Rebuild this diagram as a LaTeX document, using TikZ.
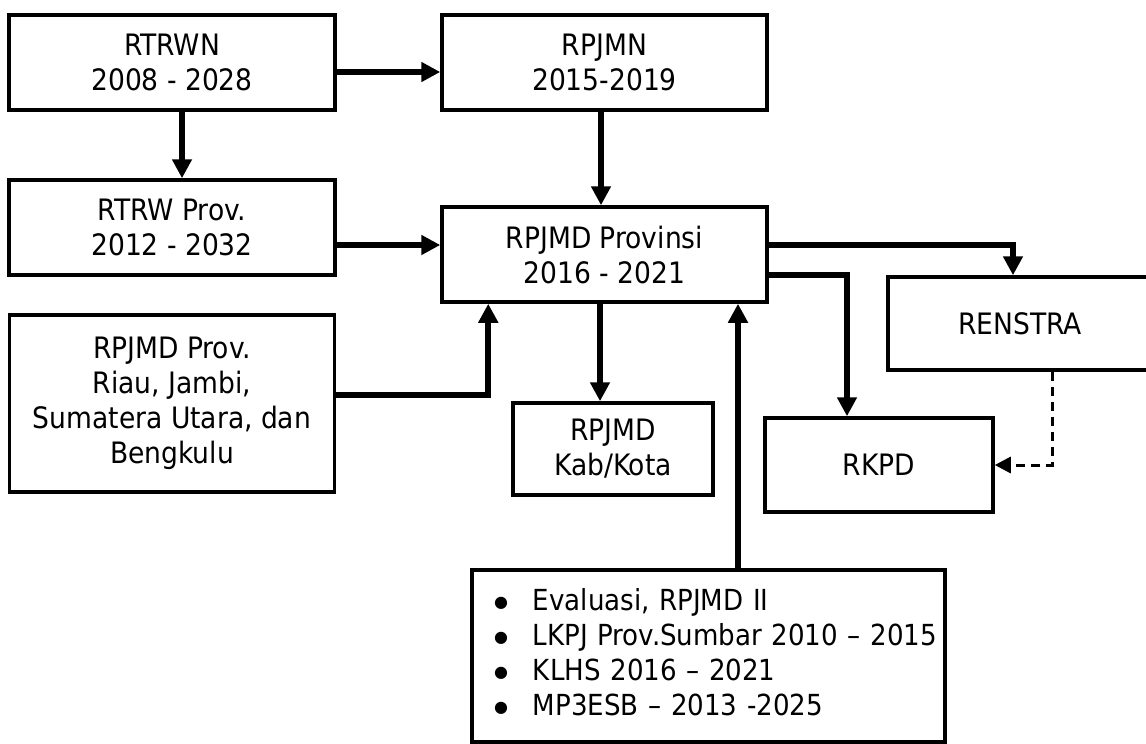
\documentclass[tikz,border=0pt]{standalone}
\usepackage{fontspec}
\setmainfont{DejaVu Sans Condensed}
\newfontfamily\symfont{DejaVu Sans}
\usetikzlibrary{arrows.meta,calc}
\tikzset{
  box/.style={draw=black, line width=1.75pt, rectangle, inner sep=0pt, align=center,
    font=\fontsize{14.75}{17.5}\selectfont, fill=white},
  arr/.style={line width=3pt, -{Triangle[length=9.5pt,width=9.5pt]}},
  darr/.style={line width=1.5pt, dash pattern=on 4.5pt off 3pt, -{Triangle[length=8pt,width=8pt]}}
}
\newcommand{\bul}{\raisebox{1.6pt}{\symfont\fontsize{8}{8}\selectfont ●}}
\begin{document}
\begin{tikzpicture}[x=0.5pt,y=-0.5pt]
\useasboundingbox (0,0) rectangle (1146,744);
\node[box, minimum width=163pt, minimum height=47.5pt] (rtrwn) at (172,62.5) {RTRWN\\2008 - 2028};
\node[box, minimum width=162.5pt, minimum height=47.5pt] (rpjmn) at (604.5,62.5) {RPJMN\\2015-2019};
\node[box, minimum width=163pt, minimum height=47.5pt] (rtrwp) at (172,227.5) {RTRW Prov.\\2012 - 2032};
\node[box, minimum width=162.5pt, minimum height=47.5pt] (prov) at (604.5,254.5) {RPJMD Provinsi\\2016 - 2021};
\node[box, minimum width=162.5pt, minimum height=88.5pt] (riau) at (172,403.5) {RPJMD Prov.\\Riau, Jambi,\\Sumatera Utara, dan\\Bengkulu};
\node[box, minimum width=100pt, minimum height=46pt] (kab) at (613,449) {RPJMD\\Kab/Kota};
\node[box, minimum width=132pt, minimum height=46.5pt] (renstra) at (1020,323.5) {RENSTRA};
\node[box, minimum width=114pt, minimum height=47pt] (rkpd) at (879,465) {RKPD};
\node[box, font=\fontsize{14.5}{17.5}\selectfont, minimum height=86pt, inner xsep=11pt, text width=214.5pt, align=left] (list) at (708.5,656)
  {\begin{tabular}{@{}l@{\hspace{12.5pt}}l@{}}
   \bul & Evaluasi, RPJMD II\\
   \bul & LKPJ Prov.Sumbar 2010 – 2015\\
   \bul & KLHS 2016 – 2021\\
   \bul & MP3ESB – 2013 -2025
   \end{tabular}};
% connectors
\draw[arr] ([yshift=-4.75pt]rtrwn.east) coordinate (a1) -- (a1 -| rpjmn.west);
\draw[arr] ([xshift=5pt]rtrwn.south) coordinate (a2) -- (a2 |- rtrwp.north);
\draw[arr] ([xshift=-1.75pt]rpjmn.south) coordinate (a3) -- (a3 |- prov.north);
\draw[arr] ([yshift=-8.75pt]rtrwp.east) coordinate (a4) -- (a4 -| prov.west);
\draw[arr] ([yshift=4.25pt]riau.east) -| ([xshift=24pt]prov.south west);
\draw[arr] ([xshift=-2.25pt]prov.south) coordinate (a5) -- (a5 |- kab.north);
\draw[arr] ([yshift=4.75pt]prov.east) -| ([xshift=-3.5pt]renstra.north);
\draw[arr] ([yshift=-10.25pt]prov.east) -| ([xshift=-16pt]rkpd.north);
\draw[arr] ([xshift=14.75pt]list.north) coordinate (a6) -- (a6 |- prov.south);
\draw[darr] ([xshift=16pt]renstra.south) |- (rkpd.east);
\end{tikzpicture}
\end{document}
